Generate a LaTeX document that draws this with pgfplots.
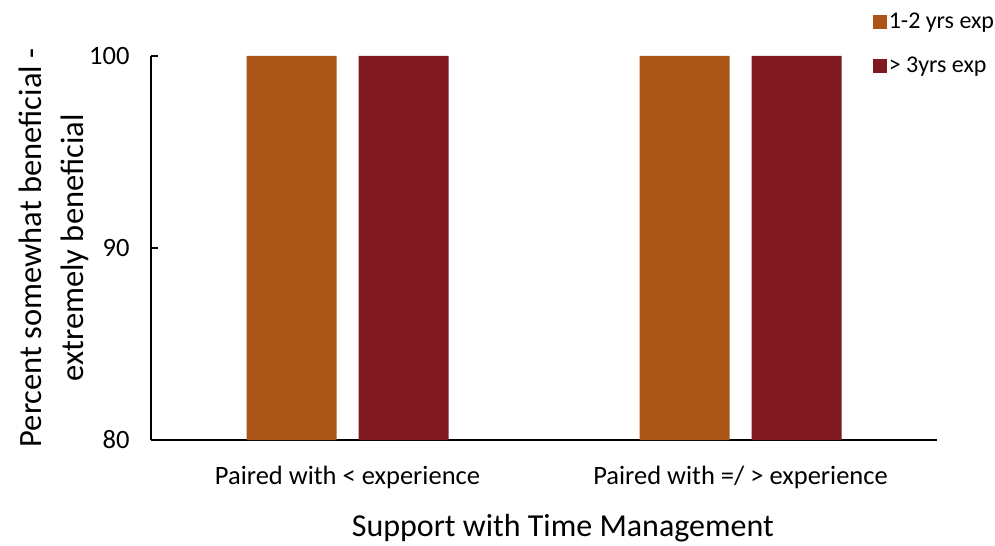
\documentclass[border=0pt]{standalone}
\usepackage{pgfplots}
\pgfplotsset{compat=1.18}
\usepackage{fontspec}
\setmainfont{Carlito}
\definecolor{cOrange}{RGB}{170,85,22}
\definecolor{cRed}{RGB}{128,26,32}
\begin{document}
\begin{tikzpicture}[x=1bp,y=1bp]
\path[use as bounding box] (0,0) rectangle (995,-546);
\begin{axis}[
  at={(151bp,-56bp)}, anchor=north west,
  scale only axis, width=786bp, height=384bp,
  xmin=-0.5, xmax=1.5, ymin=80, ymax=100,
  ytick={80,90,100},
  xtick={0,1},
  xticklabels={Paired with < experience, Paired with =/ > experience},
  /pgf/number format/assume math mode=true,
  axis x line*=bottom, axis y line*=left,
  axis line style={line width=1.6bp, -},
  x axis line style={-}, y axis line style={-},
  major tick length=7bp,
  tick style={line width=1.6bp, black},
  xtick style={draw=none},
  ytick align=inside,
  tick label style={font=\fontsize{26.5bp}{30bp}\selectfont},
  yticklabel style={xshift=-18bp},
  xticklabel style={yshift=-16bp},
  ylabel={Percent somewhat beneficial -\\extremely beneficial},
  ylabel style={at={(axis description cs:-0.124,0.5)}, anchor=center, align=center,
     font=\fontsize{32.5bp}{42bp}\selectfont},
  xlabel={Support with Time Management},
  xlabel style={at={(axis description cs:0.524,-0.229)}, anchor=center,
     font=\fontsize{32bp}{36bp}\selectfont},
  ybar, bar width=90bp,
  clip=false,
  legend style={at={(rel axis cs:0.918,1.117)}, anchor=north west, draw=none, fill=none,
     font=\fontsize{24bp}{28bp}\selectfont, row sep=23bp,
     legend cell align=left, inner sep=0pt},
  legend image code/.code={\fill[#1] (0bp,-7bp) rectangle (14bp,7bp);},
]
\addplot[fill=cOrange, draw=none, bar shift=-56bp] coordinates {(0,100) (1,100)};
\addplot[fill=cRed, draw=none, bar shift=56bp] coordinates {(0,100) (1,100)};
\legend{1-2 yrs exp, > 3yrs exp}
\end{axis}
\end{tikzpicture}
\end{document}
